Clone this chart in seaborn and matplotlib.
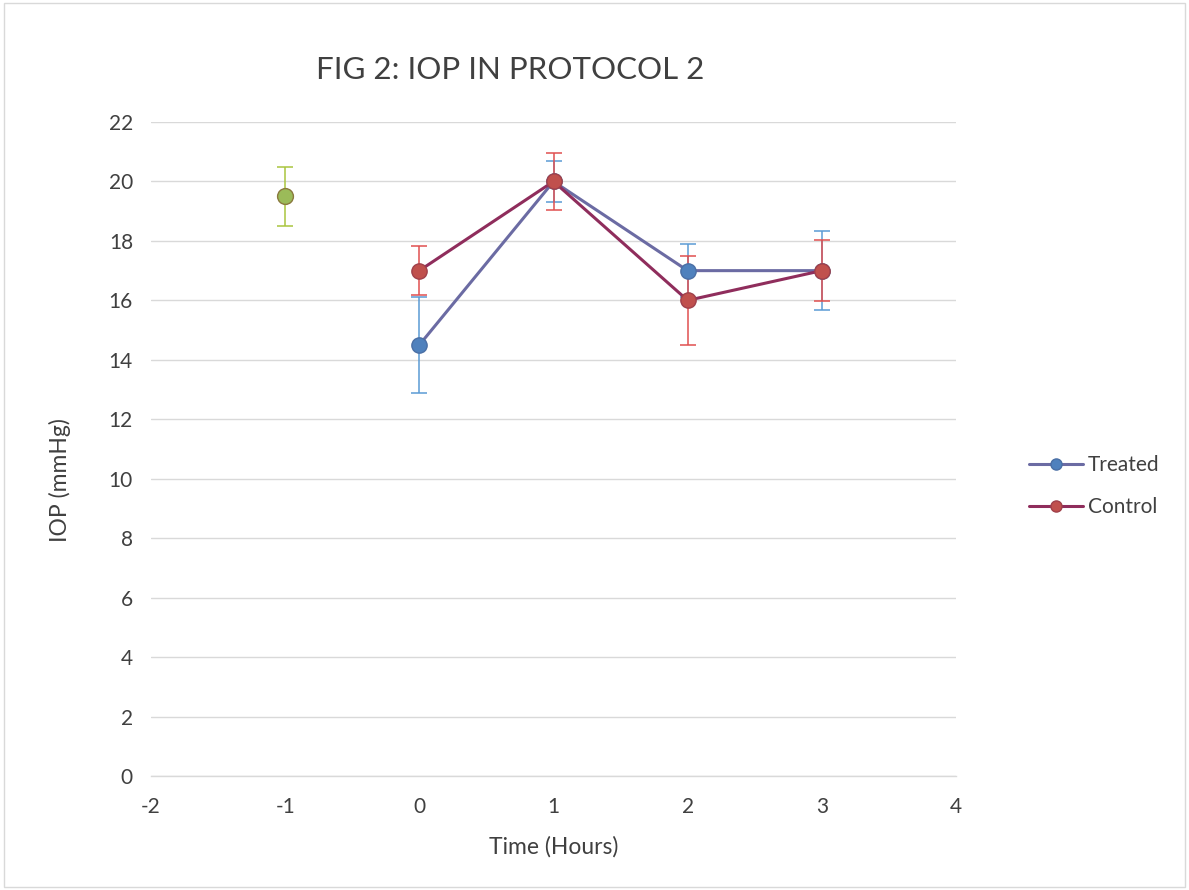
import matplotlib
matplotlib.use("Agg")
import matplotlib.pyplot as plt
import seaborn as sns
import pandas as pd
from matplotlib.patches import Rectangle
from matplotlib.lines import Line2D

# ---- data ----
time_points = [0, 1, 2, 3]
treated_iop = [14.5, 20, 17, 17]
treated_err = [1.6, 0.68, 0.9, 1.33]
control_iop = [17, 20, 16, 17]
control_err = [0.82, 0.95, 1.5, 1.03]
baseline_time = [-1]
baseline_iop = [19.5]
baseline_err = [1.0]
x_ticks = [-2, -1, 0, 1, 2, 3, 4]
y_ticks = list(range(0, 23, 2))

sns.set_theme(style="white")
plt.rcParams['font.family'] = ['Lato', 'DejaVu Sans']

W, H = 1189, 890
fig = plt.figure(figsize=(W / 100, H / 100), dpi=100)
ax = fig.add_axes([151 / W, 1 - 776 / H, (956 - 151) / W, (776 - 122) / H])

df = pd.DataFrame({
    "Time": time_points * 2,
    "IOP": treated_iop + control_iop,
    "Group": ["Treated"] * 4 + ["Control"] * 4,
})

text_col = "#404040"
line_cols = {"Treated": "#6B6BA3", "Control": "#8F2D5C"}
fill_cols = {"Treated": "#4F81BD", "Control": "#C0504D"}
edge_cols = {"Treated": "#4A6FA5", "Control": "#A0404A"}
err_cols = {"Treated": "#5B9BD5", "Control": "#E05050"}

ax.errorbar(time_points, treated_iop, yerr=treated_err, fmt='none',
            ecolor=err_cols["Treated"], elinewidth=1.1, capsize=6, capthick=1.1, zorder=2)
ax.errorbar(time_points, control_iop, yerr=control_err, fmt='none',
            ecolor=err_cols["Control"], elinewidth=1.1, capsize=6, capthick=1.1, zorder=2)
ax.errorbar(baseline_time, baseline_iop, yerr=baseline_err, fmt='none',
            ecolor="#A9C53F", elinewidth=1.1, capsize=6, capthick=1.1, zorder=2)

for grp in ["Treated", "Control"]:
    sub = df[df["Group"] == grp]
    sns.lineplot(data=sub, x="Time", y="IOP", ax=ax, color=line_cols[grp],
                 linewidth=2.2, marker="o", markersize=11,
                 markerfacecolor=fill_cols[grp], markeredgecolor=edge_cols[grp],
                 markeredgewidth=1.0, legend=False, zorder=3)

sns.scatterplot(x=baseline_time, y=baseline_iop, ax=ax, s=130, color="#9BBB59",
                edgecolor="#8A7A3E", linewidth=1.0, zorder=4, legend=False)

ax.set_xlim(-2, 4)
ax.set_ylim(0, 22)
ax.set_xticks(x_ticks)
ax.set_yticks(y_ticks)
ax.set_xticklabels([str(t) for t in x_ticks])
ax.set_yticklabels([str(t) for t in y_ticks])
ax.tick_params(axis='both', labelsize=15, labelcolor=text_col, length=0)
ax.tick_params(axis='x', pad=15)
ax.tick_params(axis='y', pad=13)
ax.grid(axis='y', color="#D9D9D9", linewidth=1.0)
ax.grid(axis='x', visible=False)
for s in ["top", "right", "left"]:
    ax.spines[s].set_visible(False)
ax.spines["bottom"].set_color("#D9D9D9")
ax.spines["bottom"].set_linewidth(1.0)
ax.set_axisbelow(True)
ax.set_xlabel("")
ax.set_ylabel("")

fig.text(554 / W, 1 - 847 / H, "Time (Hours)", fontsize=16.5, color=text_col,
         ha="center", va="center")
fig.text(60 / W, 1 - 480 / H, "IOP (mmHg)", fontsize=16.5, color=text_col,
         ha="center", va="center", rotation=90)
fig.text(510 / W, 1 - 70 / H, "FIG 2: IOP IN PROTOCOL 2", fontsize=22.5, color=text_col,
         ha="center", va="center")

handles = [
    Line2D([0], [0], color=line_cols["Treated"], lw=2.2, marker="o", markersize=8,
           markerfacecolor=fill_cols["Treated"], markeredgecolor=edge_cols["Treated"]),
    Line2D([0], [0], color=line_cols["Control"], lw=2.2, marker="o", markersize=8,
           markerfacecolor=fill_cols["Control"], markeredgecolor=edge_cols["Control"]),
]
leg = fig.legend(handles, ["Treated", "Control"], loc="center left",
                 bbox_to_anchor=(1010 / W, 1 - 486 / H), frameon=False, fontsize=15,
                 handlelength=2.6, labelspacing=1.05, handletextpad=0.25)
for t in leg.get_texts():
    t.set_color(text_col)

fig.patches.append(Rectangle((0.003, 0.003), 0.994, 0.994, transform=fig.transFigure,
                             fill=False, edgecolor="#D9D9D9", linewidth=1.0))

fig.savefig("out.png", dpi=100)
